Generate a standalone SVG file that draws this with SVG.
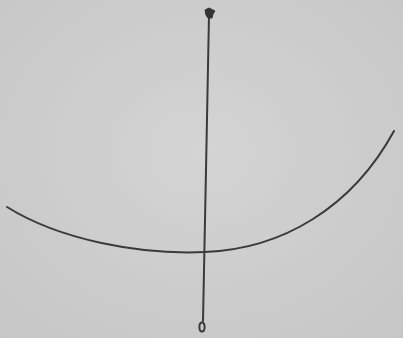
<svg xmlns="http://www.w3.org/2000/svg" width="403" height="338" viewBox="0 0 403 338">
<defs>
<radialGradient id="bg" cx="0.5" cy="0.45" r="0.75">
<stop offset="0" stop-color="#d4d4d4"/>
<stop offset="1" stop-color="#c6c6c6"/>
</radialGradient>
<style>
.ink{fill:none;stroke:#3a3a3a;stroke-width:2;stroke-linecap:round;stroke-linejoin:round}
.blob{fill:#333;stroke:#333;stroke-width:1}
</style>
</defs>
<rect width="403" height="338" fill="url(#bg)"/>
<g id="connectors">
<path class="ink" d="M209,15 L206,170 L203,321"/>
<path class="ink" d="M7,207 C60,240 140,255 205,252 C282,249 352,208 394,131"/>
</g>
<g id="top-mark">
<path class="blob" d="M205,10 L209,8 L211,9 L215,11 L213,14 L212,18 L208,18 L206,15 Z"/>
</g>
<g id="bottom-mark">
<ellipse class="ink" cx="202" cy="327" rx="2.6" ry="4.5"/>
</g>
</svg>
